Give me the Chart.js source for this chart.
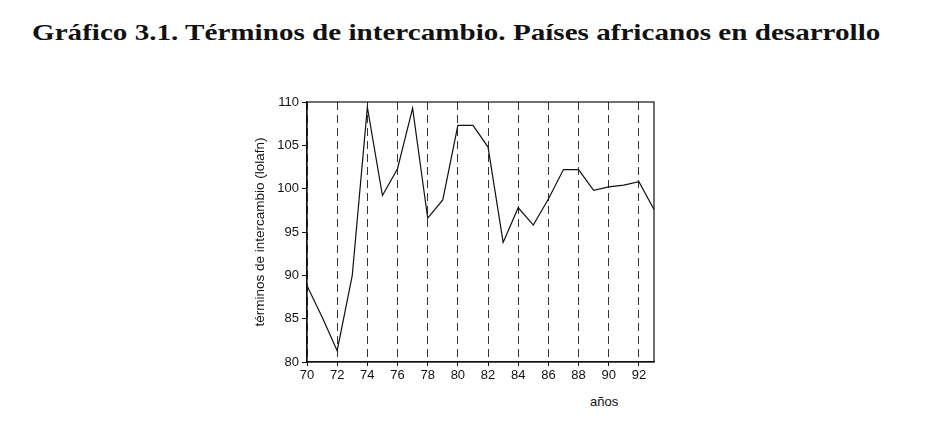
<!DOCTYPE html>
<html>
<head>
<meta charset="utf-8">
<script src="https://cdn.jsdelivr.net/npm/chart.js@4.4.1/dist/chart.umd.min.js"></script>
<style>
    body { margin: 0; background: #fff; width: 925px; height: 428px; overflow: hidden; position: relative; }
    #title { position: absolute; left: 32px; top: 19px; font-family: "Liberation Serif", "DejaVu Serif", serif; font-weight: bold; font-size: 24px; color: #111; white-space: nowrap; transform-origin: 0 0; }
    #xlabel { position: absolute; left: 590px; top: 394px; font-family: "Liberation Sans", Arial, sans-serif; font-size: 13px; color: #111; }
    #chartBox { position: absolute; left: 0; top: 0; width: 925px; height: 428px; }
</style>
</head>
<body>
<div id="title">Gráfico 3.1. Términos de intercambio. Países africanos en desarrollo</div>
<div id="xlabel">años</div>
<div id="chartBox"><canvas id="termsChart" width="925" height="428"></canvas></div>
<script>
// ========== DATA ==========
const years = [70, 71, 72, 73, 74, 75, 76, 77, 78, 79, 80, 81, 82, 83, 84, 85, 86, 87, 88, 89, 90, 91, 92, 93];
const termsValues = [88.8, 85.2, 81.3, 90.0, 109.4, 99.2, 102.3, 109.3, 96.6, 98.7, 107.3, 107.3, 104.8, 93.8, 97.8, 95.8, 98.8, 102.2, 102.2, 99.8, 100.2, 100.4, 100.8, 97.6];
const yTicks = [80, 85, 90, 95, 100, 105, 110];
const xTicks = [70, 72, 74, 76, 78, 80, 82, 84, 86, 88, 90, 92];

// fit title width to the scan
const titleEl = document.getElementById('title');
titleEl.style.transform = 'scaleX(' + (848 / titleEl.offsetWidth) + ')';

// box around the plot area (top and right sides too)
const frameBox = {
    id: 'frameBox',
    afterDraw(chart) {
        const a = chart.chartArea;
        const ctx = chart.ctx;
        ctx.save();
        ctx.setLineDash([]);
        ctx.strokeStyle = '#111';
        ctx.lineWidth = 1.2;
        ctx.strokeRect(a.left, a.top, a.right - a.left, a.bottom - a.top);
        ctx.restore();
    }
};

const tickFont = { family: '"Liberation Sans", Arial, sans-serif', size: 13 };

new Chart(document.getElementById('termsChart').getContext('2d'), {
    type: 'line',
    data: {
        datasets: [{
            data: years.map((y, i) => ({ x: y, y: termsValues[i] })),
            borderColor: '#111',
            borderWidth: 1.2,
            pointRadius: 0,
            tension: 0,
            fill: false
        }]
    },
    options: {
        responsive: false,
        animation: false,
        layout: { padding: { left: 252, right: 271, top: 102, bottom: 40 } },
        plugins: { legend: { display: false }, tooltip: { enabled: false } },
        scales: {
            x: {
                type: 'linear',
                min: 70,
                max: 93,
                afterBuildTicks: s => { s.ticks = xTicks.map(v => ({ value: v })); },
                afterFit: s => { s.height = 26; },
                ticks: { font: tickFont, color: '#111', padding: 2, maxRotation: 0, autoSkip: false },
                grid: { color: '#333', lineWidth: 1, tickLength: 4, tickBorderDash: [], tickColor: '#111' },
                border: { display: true, color: '#111', width: 1.2, dash: [8, 5] }
            },
            y: {
                min: 80,
                max: 110,
                afterBuildTicks: s => { s.ticks = yTicks.map(v => ({ value: v })); },
                afterFit: s => { s.width = 55; },
                ticks: { font: tickFont, color: '#111', padding: 3 },
                grid: { display: true, drawOnChartArea: false, tickLength: 5, color: '#111' },
                border: { display: true, color: '#111', width: 1.2 },
                title: {
                    display: true,
                    text: 'términos de intercambio (lolafn)',
                    font: { family: '"Liberation Sans", Arial, sans-serif', size: 13.5 },
                    color: '#111',
                    padding: 0
                }
            }
        }
    },
    plugins: [frameBox]
});
</script>
</body>
</html>
